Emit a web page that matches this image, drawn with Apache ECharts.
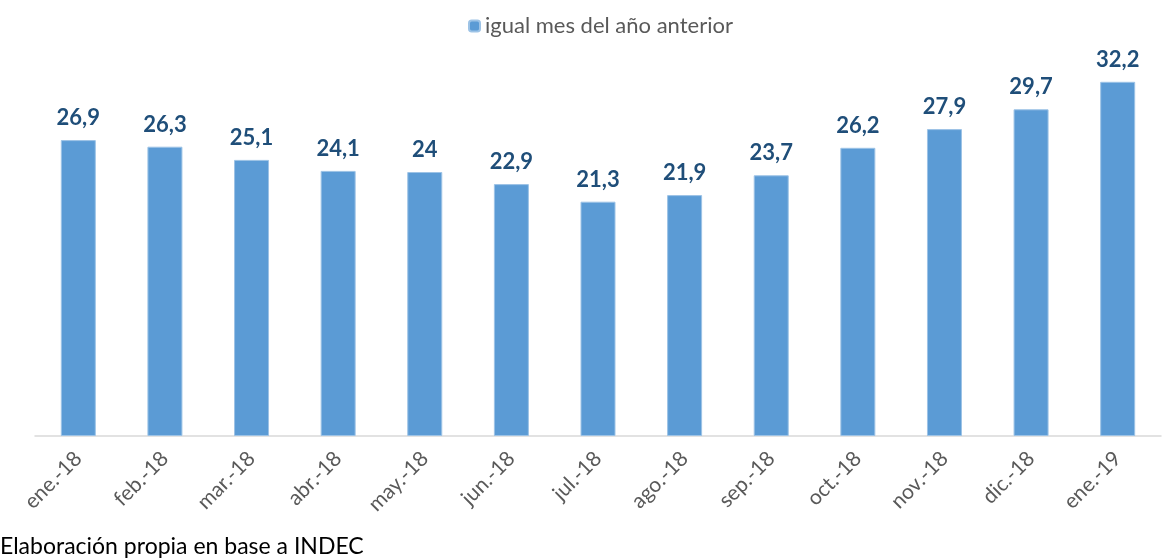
<!DOCTYPE html>
<html>
<head>
<meta charset="utf-8">
<script src="https://cdn.jsdelivr.net/npm/echarts@6/dist/echarts.min.js"></script>
<style>
  html, body { margin: 0; padding: 0; background: #fff; }
  #chart { width: 1172px; height: 558px; }
</style>
</head>
<body>
<div id="chart"></div>
<script>
// Datos
const meses = ['ene.-18', 'feb.-18', 'mar.-18', 'abr.-18', 'may.-18', 'jun.-18', 'jul.-18',
  'ago.-18', 'sep.-18', 'oct.-18', 'nov.-18', 'dic.-18', 'ene.-19'];
const variacion = [26.9, 26.3, 25.1, 24.1, 24, 22.9, 21.3, 21.9, 23.7, 26.2, 27.9, 29.7, 32.2];
const nombreSerie = 'igual mes del año anterior';

const chart = echarts.init(document.getElementById('chart'));

const option = {
  animation: false,
  textStyle: { fontFamily: 'Lato, "Open Sans", sans-serif' },
  legend: {
    data: [nombreSerie],
    top: 10,
    left: 463,
    itemWidth: 11,
    itemHeight: 11,
    itemGap: 6,
    textStyle: { color: '#595959', fontSize: 22 },
  },
  grid: { left: 35, right: 11, top: 51, bottom: 122, containLabel: false },
  xAxis: {
    type: 'category',
    data: meses,
    axisLine: { lineStyle: { color: '#d9d9d9', width: 1.5 } },
    axisTick: { show: false },
    axisLabel: {
      rotate: 45,
      margin: 19,
      color: '#595959',
      fontSize: 21,
      interval: 0,
    },
  },
  yAxis: {
    type: 'value',
    min: 0,
    max: 35,
    show: false,
    splitLine: { show: false },
  },
  series: [
    {
      name: nombreSerie,
      type: 'bar',
      data: variacion,
      barWidth: 35,
      itemStyle: { color: '#5b9bd5', borderColor: '#9dc3e6', borderWidth: 1 },
      label: {
        show: true,
        position: 'top',
        distance: 11,
        color: '#1f4e79',
        fontWeight: 'bold',
        fontSize: 22,
        formatter: (p) => String(p.value).replace('.', ','),
      },
    },
  ],
  graphic: [
    {
      type: 'text',
      left: 0,
      top: 535,
      style: {
        text: 'Elaboración propia en base a INDEC',
        fill: '#000',
        fontSize: 23,
        fontFamily: 'Lato, "Open Sans", sans-serif',
      },
    },
  ],
};

chart.setOption(option);
</script>
</body>
</html>
